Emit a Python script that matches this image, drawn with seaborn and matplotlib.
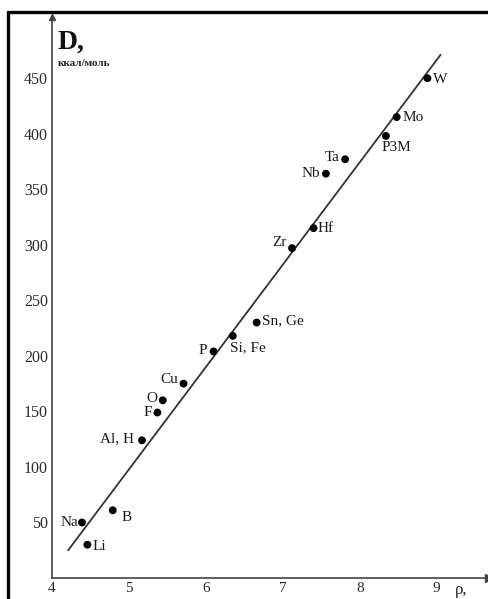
import matplotlib
matplotlib.use("Agg")
import matplotlib.pyplot as plt
import seaborn as sns
import pandas as pd
from matplotlib.lines import Line2D

# значения
elements = ["W", "Mo", "P3M", "Ta", "Nb", "Hf", "Zr", "Sn, Ge", "Si, Fe", "P",
            "Cu", "O", "F", "Al, H", "B", "Na", "Li"]
rho = [8.88, 8.48, 8.34, 7.81, 7.56, 7.40, 7.12, 6.66, 6.35, 6.10,
       5.71, 5.44, 5.37, 5.17, 4.79, 4.39, 4.46]
D = [450, 415, 398, 377, 364, 315, 297, 230, 218, 204,
     175, 160, 149, 124, 61, 50, 30]

# прямая
line_rho = [4.21, 9.05]
line_D = [25, 471]

xticks = [4, 5, 6, 7, 8, 9]
yticks = [50, 100, 150, 200, 250, 300, 350, 400, 450]

# смещения подписей (пт) и выравнивание
offsets = {
    "W": (4, -1, "left", "center"), "Mo": (4, 0, "left", "center"),
    "P3M": (-3, -4, "left", "top"), "Ta": (-4, 1, "right", "center"),
    "Nb": (-4, 0, "right", "center"), "Hf": (3, 0, "left", "center"),
    "Zr": (-4, 4, "right", "center"), "Sn, Ge": (4, 1, "left", "center"),
    "Si, Fe": (-2, -4, "left", "top"), "P": (-5, 1, "right", "center"),
    "Cu": (-4, 3, "right", "center"), "O": (-4, 1, "right", "center"),
    "F": (-4, 0, "right", "center"), "Al, H": (-6, 1, "right", "center"),
    "B": (6, -5, "left", "center"), "Na": (-3, 0, "right", "center"),
    "Li": (4, -1, "left", "center"),
}

df = pd.DataFrame({"el": elements, "rho": rho, "D": D})
line_df = pd.DataFrame({"rho": line_rho, "D": line_D})

sns.set_style("white")
plt.rcParams["font.family"] = ["Liberation Serif", "DejaVu Serif"]

fig = plt.figure(figsize=(4.89, 5.99), dpi=100)
ax = fig.add_axes([0.1063, 0.035, 0.8937, 0.9365])

sns.lineplot(data=line_df, x="rho", y="D", color="#333333", linewidth=1.3, ax=ax)
sns.scatterplot(data=df, x="rho", y="D", color="black", s=32, edgecolor="none",
                ax=ax, zorder=3)

for _, r in df.iterrows():
    dx, dy, ha, va = offsets[r["el"]]
    ax.annotate(r["el"], (r["rho"], r["D"]), xytext=(dx, dy),
                textcoords="offset points", ha=ha, va=va, fontsize=11,
                color="#1a1a1a")

ax.set_xlim(4, 9.68)
ax.set_ylim(0, 505)
ax.set_xticks(xticks)
ax.set_yticks(yticks)
ax.set_xlabel("")
ax.set_ylabel("")
ax.tick_params(axis="both", direction="inout", length=4, width=0.8,
               color="#555555", labelsize=11.5, labelcolor="#2a2a2a")
ax.tick_params(axis="x", pad=0.5, labelsize=11)
ax.tick_params(axis="y", pad=1)

for s in ["top", "right"]:
    ax.spines[s].set_visible(False)
for s in ["left", "bottom"]:
    ax.spines[s].set_color("#444444")
    ax.spines[s].set_linewidth(1.2)

# стрелки осей
ax.plot(1, 0, ">", color="#444444", markersize=6, transform=ax.transAxes,
        clip_on=False)
ax.plot(0, 1, "^", color="#444444", markersize=4, transform=ax.transAxes,
        clip_on=False)

ax.text(4.07, 477, "D,", fontsize=20, fontweight="bold", ha="left",
        va="baseline", color="#111111")
ax.text(4.07, 463, "ккал/моль", fontsize=8, fontweight="bold", ha="left",
        va="center", color="#222222")
ax.text(9.23, -11, "ρ,", fontsize=12, ha="left", va="center",
        color="#222222", clip_on=False)

# рамка скана
fig.add_artist(Line2D([0.0164, 1.0], [0.98, 0.98], color="black",
                      linewidth=2.4, transform=fig.transFigure))
fig.add_artist(Line2D([0.0164, 0.0164], [0.0, 0.98], color="black",
                      linewidth=2.4, transform=fig.transFigure))

fig.savefig("out.png", dpi=100)
